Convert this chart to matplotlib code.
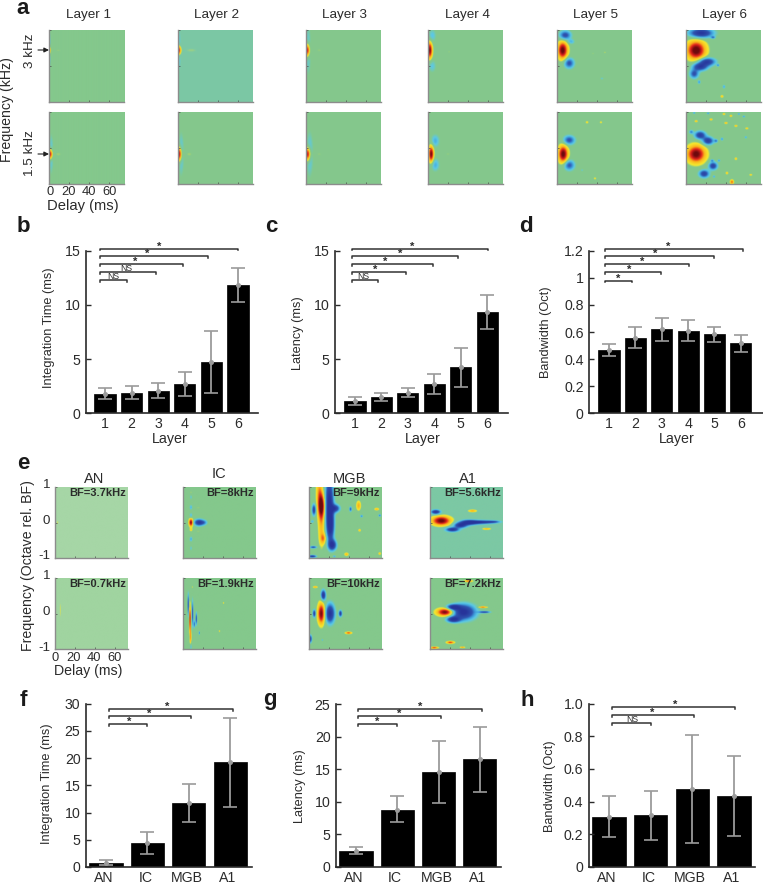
import numpy as np
import matplotlib
matplotlib.use("Agg")
import matplotlib.pyplot as plt
from matplotlib.colors import LinearSegmentedColormap

plt.rcParams["font.family"] = ["Liberation Sans", "DejaVu Sans"]

W, H = 763, 885
TXT = "#2b2b2b"
GRAY = "#9b9b9b"
LOBE_SCALE = 1.25

# bar data: mean, upper whisker, lower whisker
layers = ["1", "2", "3", "4", "5", "6"]
areas = ["AN", "IC", "MGB", "A1"]

int_mean = [1.75, 1.85, 2.1, 2.7, 4.7, 11.85]
int_up = [2.3, 2.5, 2.8, 3.85, 7.6, 13.4]
int_lo = [1.3, 1.35, 1.45, 1.55, 1.85, 10.3]

lat_mean = [1.14, 1.47, 1.9, 2.7, 4.24, 9.3]
lat_up = [1.54, 1.87, 2.37, 3.66, 6.05, 10.9]
lat_lo = [0.77, 1.14, 1.47, 1.75, 2.46, 7.75]

bw_mean = [0.47, 0.556, 0.62, 0.61, 0.583, 0.516]
bw_up = [0.514, 0.634, 0.706, 0.69, 0.64, 0.578]
bw_lo = [0.425, 0.482, 0.53, 0.534, 0.524, 0.455]

area_int_mean = [0.73, 4.46, 11.8, 19.2]
area_int_up = [1.2, 6.5, 15.3, 27.4]
area_int_lo = [0.37, 2.44, 8.25, 11.06]

area_lat_mean = [2.5, 8.8, 14.57, 16.5]
area_lat_up = [3.12, 10.84, 19.27, 21.5]
area_lat_lo = [2.0, 6.85, 9.87, 11.45]

area_bw_mean = [0.307, 0.315, 0.474, 0.434]
area_bw_up = [0.431, 0.464, 0.81, 0.681]
area_bw_lo = [0.184, 0.166, 0.143, 0.188]

# significance brackets: left end, right ends, heights, labels, label x
b_sig = (0.81, [1.81, 2.9, 3.93, 4.88, 6.0], [12.3, 13.0, 13.75, 14.5, 15.2],
         ["NS", "NS", "*", "*", "*"], [1.3, 1.8, 2.15, 2.6, 3.03])
c_sig = (0.9, [1.87, 2.95, 3.95, 4.9, 6.03], [12.3, 13.0, 13.75, 14.5, 15.2],
         ["NS", "*", "*", "*", "*"], [1.3, 1.75, 2.15, 2.7, 3.15])
d_sig = (0.85, [1.87, 2.96, 4.02, 4.97, 6.08], [0.98, 1.04, 1.1, 1.16, 1.215],
         ["*", "*", "*", "*", "*"], [1.35, 1.75, 2.25, 2.76, 3.26])
f_sig = (1.08, [2.0, 3.05, 4.07], [26.3, 27.7, 29.1],
         ["*", "*", "*"], [1.55, 2.05, 2.48])
g_sig = (1.05, [2.0, 3.05, 4.05], [21.9, 23.1, 24.3],
         ["*", "*", "*"], [1.52, 2.05, 2.55])
h_sig = (1.06, [2.0, 3.03, 4.03], [0.881, 0.93, 0.978],
         ["NS", "*", "*"], [1.55, 2.03, 2.58])

# strf lobes, estimated by eye: delay (ms), freq, width, height, strength
layer_top = [
    [(0.4, .44, .6, .07, .7), (.5, .44, .6, .28, -.3), (9, .44, 3.5, .04, .09)],
    [(.8, .44, 1.0, .08, 1.0), (1.2, .44, .9, .3, -.28), (13, .44, 6, .05, .1)],
    [(1.2, .44, 1.3, .1, 1.0), (2, .44, 1.6, .38, -.26), (13, .44, 3, .05, .09)],
    [(1.5, .44, 1.4, .125, 1.0), (4, .85, 2.2, .1, -.26), (4, -.0, 2.2, .1, -.24), (21, .4, .8, .03, .1)],
    [(5.5, .44, 2.7, .13, 1.05), (8, .86, 3.2, .07, -.7), (12, .08, 2.8, .08, -.65), (14, .68, 2, .04, -.3),
     (48, .38, 1, .02, .12), (45, -.35, 1, .02, -.2), (36, .35, 1, .02, .1)],
    [(10, .44, 5, .14, 1.1), (15, .92, 6.5, .07, -.98), (21, .12, 4.5, .06, -.9), (14, -.02, 4, .06, -.9),
     (8, -.22, 2.5, .07, -.65), (27, .8, 1.2, .02, -.45), (32, .02, .8, .02, -.4),
     (38, -.58, .8, .03, -.35), (36, -.85, .8, .02, .35), (13, -.45, .8, .03, -.4)],
]
layer_bottom = [
    [(1.2, -.17, 1.1, .08, 1.0), (2, -.17, 1.2, .3, -.28), (9, -.17, 3, .05, .1)],
    [(1.2, -.17, 1.3, .105, 1.0), (3, -.17, 1.6, .33, -.28), (11, -.17, 3, .05, .1)],
    [(1.5, -.17, 1.5, .1, 1.0), (3.5, -.17, 2, .35, -.28), (13, -.17, 3, .05, .09)],
    [(3, -.17, 1.4, .125, 1.0), (7, .2, 2.4, .1, -.33), (7, -.47, 2.4, .1, -.33), (20, -.17, 3, .04, .09)],
    [(6, -.17, 2.6, .13, 1.05), (12, .22, 3.2, .07, -.65), (12, -.48, 3, .08, -.62),
     (30, .72, .8, .02, .25), (44, .72, .8, .02, .2), (38, -.85, .8, .02, .2), (25, -.62, .8, .02, -.2)],
    [(10, -.17, 5, .13, 1.05), (14, .36, 3, .06, -.85), (22, .2, 3, .06, -.85),
     (27, -.5, 2.4, .06, -.8), (18, -.72, 2.8, .06, -.8),
     (30, .2, 1, .025, -.45), (36, .25, .8, .025, -.4), (5, .45, 1.2, .03, -.45),
     (10, .75, .8, .015, .4), (25, .8, .8, .015, .4), (40, .7, .8, .015, .45), (50, .62, .8, .015, .4),
     (58, .88, .8, .015, -.4), (53, .95, .7, .015, -.4), (45, .9, .7, .015, .4), (61, .55, .8, .015, .35),
     (46, -.95, 1.0, .035, .6), (41, -.7, .7, .02, .35), (33, -.35, .7, .02, -.4), (65, -.75, .8, .015, .3),
     (50, -.3, .7, .02, .35), (28, -.8, .7, .02, -.35), (22, .97, .7, .015, -.45), (8, .98, .7, .015, -.4),
     (60, .3, .7, .02, -.35), (38, .95, .7, .015, .4), (26, -.35, 1.0, .02, -.4)],
]
area_top = [
    [(2.3, 0, .35, .05, .24), (2.5, .1, 1.0, .35, -.08)],
    [(7.7, 0, 1.1, .06, 1.0), (15.7, 0, 2.6, .05, -.95), (21, 0, 1.8, .04, -.3), (7.7, .2, .8, .04, -.3),
     (7.7, .43, .8, .04, -.32), (7.7, .72, .6, .04, -.22), (7.7, -.47, .8, .04, -.35), (7.7, -.73, .6, .04, -.22),
     (15, .42, 3, .04, .09), (15, -.25, 3, .04, .09), (7.7, -.2, .7, .025, .3), (7.7, .85, .5, .03, .12)],
    [(12, .48, 1.9, .18, 1.0), (12, .0, 1.7, .35, .42), (14, -.45, 1.5, .08, .45), (10, .9, 1.7, .2, .42),
     (20, .6, 2.3, .38, -1.0), (21, -.1, 2, .25, -.95), (23, -.64, 2.2, .08, -.95), (26, .4, 2.4, .06, -.8),
     (4.7, .36, 1.1, .09, -.8), (4, -.7, 2, .02, -.65), (3, -.96, 2.2, .02, -.9), (25, -.96, .9, .015, -.35),
     (41, .38, .7, .04, -.6), (49, .48, 1.2, .07, .45), (67, .38, 1.2, .02, .4), (52, .18, .8, .02, -.45),
     (50, -.22, .7, .02, .35), (37, -.9, 1.1, .025, .4), (70, -.88, .7, .02, .35), (70, .2, .7, .02, -.5),
     (3, .03, 1, .025, -.3)],
    [(11, .05, 5, .07, 1.05), (22, -.2, 3.6, .035, -.95), (30, -.08, 3.5, .04, -.95), (38, .0, 4.5, .04, -.95),
     (50, .01, 7, .03, -.9), (63, .02, 4, .02, -.5), (5.5, .3, 2.6, .035, -.95), (42, .33, 2.2, .02, .45),
     (56, -.18, 2.2, .015, .4)],
]
area_bottom = [
    [(5, .1, .25, .16, .22), (6, .2, 1.2, .55, -.07)],
    [(6.7, -.15, .45, .2, .9), (7.3, -.7, .4, .15, .5), (5, .25, .4, .17, -.8), (9.3, .0, .4, .2, -.75),
     (13, -.15, .45, .1, -.7), (11, -.3, .4, .06, -.6), (7.5, -.93, .4, .06, -.5), (16, -.55, .3, .03, -.5),
     (9, .75, .25, .015, .22), (40, .3, .3, .015, .3), (36, -.5, .3, .015, .3)],
    [(12, .0, 1.9, .16, 1.0), (20.7, .0, 2.5, .15, -1.0), (14, .52, 1.3, .08, -.95), (5, .0, .8, .06, -.85),
     (31, .0, .9, .05, -.85), (39, -.55, 1.7, .018, .65), (6, .75, 1.2, .015, .45), (1, -.72, .9, .06, -.85),
     (13, -.75, .4, .015, -.35)],
    [(15, .04, 4.5, .06, 1.05), (33, .04, 6.5, .12, -1.05), (23, -.17, 3.5, .045, -.95), (23, .18, 3.5, .04, -.95),
     (52, .18, 2.4, .012, .65), (54, .04, 3, .015, -.8), (20, -.82, 2.1, .02, .7), (4, -.97, 2.1, .015, .7),
     (32, -.96, 1.3, .012, .5), (38, .92, 2.1, .015, .65)],
]
layer_bg_top = ["#84c88c", "#7cc8a4", "#84c88c", "#84c88c", "#84c88c", "#84c88c"]
layer_bg_bottom = ["#84c88c", "#84c88c", "#84c88c", "#84c88c", "#84c88c", "#84c88c"]
area_bg_top = ["#a6d6a6", "#84c88c", "#84c88c", "#7cc8a4"]
area_bg_bottom = ["#a0d4a0", "#84c88c", "#84c88c", "#84c88c"]
bf_top = ["BF=3.7kHz", "BF=8kHz", "BF=9kHz", "BF=5.6kHz"]
bf_bottom = ["BF=0.7kHz", "BF=1.9kHz", "BF=10kHz", "BF=7.2kHz"]


def ax_px(fig, x0, y0, x1, y1):
    return fig.add_axes([x0 / W, 1 - y1 / H, (x1 - x0) / W, (y1 - y0) / H])


def txt(fig, x, y, s, size=9.7, **kw):
    kw.setdefault("ha", "center")
    kw.setdefault("va", "center")
    kw.setdefault("color", TXT)
    fig.text(x / W, 1 - y / H, s, fontsize=size, **kw)


def strf_cmap(bg):
    stops = [(0, "#27349a"), (.2, "#2f55b0"), (.3, "#3f9fdc"), (.38, "#5cc9e6"), (.46, bg), (.54, bg),
             (.58, "#f5e92e"), (.72, "#fbb51c"), (.86, "#e3231c"), (1, "#6e0a0e")]
    return LinearSegmentedColormap.from_list("strf", stops)


def draw_strf(ax, lobes, bg, xmax=75):
    t = np.linspace(0, xmax, 2 * xmax)
    f = np.linspace(-1, 1, 144)
    tt, ff = np.meshgrid(t, f)
    z = np.zeros_like(tt)
    for x0, y0, sx, sy, amp in lobes:
        sx, sy = sx * LOBE_SCALE, sy * LOBE_SCALE
        z += amp * np.exp(-((tt - x0) / sx) ** 2 / 2 - ((ff - y0) / sy) ** 2 / 2)
    ax.imshow(z, origin="lower", extent=[0, xmax, -1, 1], aspect="auto", cmap=strf_cmap(bg),
              vmin=-1, vmax=1, interpolation="bilinear")
    for s in ["top", "right"]:
        ax.spines[s].set_visible(False)
    for s in ["left", "bottom"]:
        ax.spines[s].set_color("#8c8c8c")
        ax.spines[s].set_linewidth(1.0)
    ax.set_xticks([0, 20, 40, 60])
    ax.set_yticks([-1, 0, 1])
    ax.tick_params(length=1.5, width=.5, color="#444444", direction="in", labelleft=False, labelbottom=False)


def bar_panel(fig, box, xlim, ylim, yticks, yticklabels, names, mean, up, lo, sig, tick_shift=0):
    ax = ax_px(fig, *box)
    x = np.arange(1, len(mean) + 1)
    ax.bar(x, mean, width=.8, color="black", edgecolor="black", linewidth=.5)
    for i in range(len(x)):
        ax.plot([x[i], x[i]], [lo[i], up[i]], color=GRAY, lw=1.3, solid_capstyle="butt", zorder=3)
        for v in (lo[i], up[i]):
            ax.plot([x[i]], [v], marker="_", ms=9.5, mew=1.2, color=GRAY, zorder=3)
        ax.plot([x[i]], [mean[i]], marker="o", ms=3.6, color=GRAY, mec="none", zorder=4)
    ax.set_xlim(*xlim)
    ax.set_ylim(*ylim)
    ax.set_xticks(x + tick_shift)
    ax.set_xticklabels(names)
    ax.set_yticks(yticks)
    ax.set_yticklabels(yticklabels)
    ax.tick_params(axis="x", length=0, labelsize=10.2, labelcolor=TXT, pad=3)
    ax.tick_params(axis="y", length=3.5, width=1, direction="in", labelsize=10.2, labelcolor=TXT, pad=4, color=TXT)
    for s in ["top", "right"]:
        ax.spines[s].set_visible(False)
    for s in ["left", "bottom"]:
        ax.spines[s].set_color(TXT)
        ax.spines[s].set_linewidth(1.2)
    left, rights, levels, labels, label_x = sig
    drop = ylim[1] * .012
    for r, y, lab, lx in zip(rights, levels, labels, label_x):
        ax.plot([left, left, r, r], [y - drop, y, y, y - drop], color="#333333", lw=1.1, clip_on=False)
        if lab == "*":
            ax.text(lx, y - ylim[1] * .018, lab, fontsize=8, fontweight="bold", ha="center", va="bottom",
                    color=TXT, clip_on=False)
        else:
            ax.text(lx, y - ylim[1] * .006, lab, fontsize=6.2, ha="center", va="bottom", color=TXT, clip_on=False)
    return ax


fig = plt.figure(figsize=(W / 100, H / 100), dpi=100)

# panel a
a_x = [49, 178, 306, 428, 557, 686]
for i in range(6):
    ax = ax_px(fig, a_x[i], 30, a_x[i] + 75, 102)
    draw_strf(ax, layer_top[i], layer_bg_top[i])
    ax = ax_px(fig, a_x[i], 112, a_x[i] + 75, 184)
    draw_strf(ax, layer_bottom[i], layer_bg_bottom[i])
    txt(fig, a_x[i] + 39, 15, "Layer %d" % (i + 1))
for lx, s in zip([50, 69, 89, 110], ["0", "20", "40", "60"]):
    txt(fig, lx, 192, s, 9.3)
txt(fig, 83, 206, "Delay (ms)", 10.6)
txt(fig, 30, 51, "3 kHz", 9.7, rotation=90)
txt(fig, 30, 153, "1.5 kHz", 9.7, rotation=90)
txt(fig, 7, 110, "Frequency (kHz)", 10.2, rotation=90)
for y in [50, 154]:
    fig.add_artist(matplotlib.patches.FancyArrowPatch(
        (38 / W, 1 - y / H), (49 / W, 1 - y / H), transform=fig.transFigure,
        arrowstyle="-|>", mutation_scale=7, lw=.8, color="#222222", shrinkA=0, shrinkB=0))

# panels b, c, d
bar_panel(fig, (86, 250.7, 258, 413.3), (.286, 6.75), (0, 15), [0, 5, 10, 15], ["0", "5", "10", "15"],
          layers, int_mean, int_up, int_lo, b_sig)
bar_panel(fig, (335, 250.7, 508, 413.3), (.245, 6.79), (0, 15), [0, 5, 10, 15], ["0", "5", "10", "15"],
          layers, lat_mean, lat_up, lat_lo, c_sig)
bar_panel(fig, (589.3, 250.7, 763, 413.3), (.254, 6.84), (0, 1.2), [0, .2, .4, .6, .8, 1, 1.2],
          ["0", "0.2", "0.4", "0.6", "0.8", "1", "1.2"], layers, bw_mean, bw_up, bw_lo, d_sig)
txt(fig, 49, 328, "Integration Time (ms)", 9.2, rotation=90)
txt(fig, 298, 333, "Latency (ms)", 9.2, rotation=90)
txt(fig, 546, 332, "Bandwidth (Oct)", 9.2, rotation=90)
for lx in [170, 423, 677]:
    txt(fig, lx, 439, "Layer", 10.3)

# panel e
e_x = [55, 183, 309, 430]
for i in range(4):
    ax = ax_px(fig, e_x[i], 487, e_x[i] + 72.5, 558)
    draw_strf(ax, area_top[i], area_bg_top[i], 72)
    ax = ax_px(fig, e_x[i], 578, e_x[i] + 72.5, 649)
    draw_strf(ax, area_bottom[i], area_bg_bottom[i], 72)
    txt(fig, e_x[i] + 71, 493, bf_top[i], 8, ha="right", fontweight="bold")
    txt(fig, e_x[i] + 71, 584, bf_bottom[i], 8, ha="right", fontweight="bold")
for lx, ly, s in zip([94, 219, 349, 468], [479, 474, 479, 479], areas):
    txt(fig, lx, ly, s, 10.5)
for ly, s in zip([485, 521, 556, 576, 612, 648], ["1", "0", "-1", "1", "0", "-1"]):
    txt(fig, 50, ly, s, 9.6, ha="right")
for lx, s in zip([55, 74, 94, 115], ["0", "20", "40", "60"]):
    txt(fig, lx, 658, s, 9.3)
txt(fig, 88, 671, "Delay (ms)", 10.2)
txt(fig, 28, 566, "Frequency (Octave rel. BF)", 10.2, rotation=90)

# panels f, g, h
bar_panel(fig, (86, 703.7, 251.7, 867), (.517, 4.52), (0, 30), [0, 5, 10, 15, 20, 25, 30],
          ["0", "5", "10", "15", "20", "25", "30"], areas, area_int_mean, area_int_up, area_int_lo, f_sig, -.05)
bar_panel(fig, (336, 704, 501, 867), (.516, 4.51), (0, 25), [0, 5, 10, 15, 20, 25],
          ["0", "5", "10", "15", "20", "25"], areas, area_lat_mean, area_lat_up, area_lat_lo, g_sig, -.05)
bar_panel(fig, (588.7, 703.7, 755, 866.7), (.513, 4.5), (0, 1), [0, .2, .4, .6, .8, 1],
          ["0", "0.2", "0.4", "0.6", "0.8", "1.0"], areas, area_bw_mean, area_bw_up, area_bw_lo, h_sig, -.05)
txt(fig, 47, 784, "Integration Time (ms)", 9.2, rotation=90)
txt(fig, 300, 786, "Latency (ms)", 9.2, rotation=90)
txt(fig, 550, 786, "Bandwidth (Oct)", 9.2, rotation=90)

# panel letters
for lx, ly, s in [(23, 9, "a"), (23, 227, "b"), (271, 227, "c"), (526, 227, "d"),
                  (23, 463, "e"), (23, 700, "f"), (270, 700, "g"), (527, 700, "h")]:
    txt(fig, lx, ly, s, 16, fontweight="bold", color="#1a1a1a")

fig.savefig("out.png", dpi=100)
